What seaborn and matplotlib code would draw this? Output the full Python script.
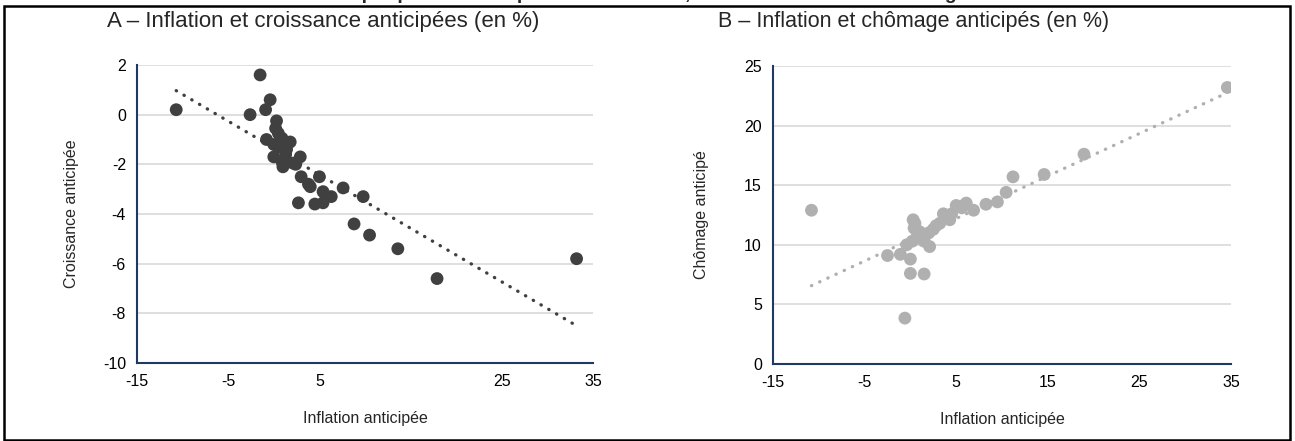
# Inflation anticipée vs croissance / chômage anticipés - two scatter panels
import numpy as np
import pandas as pd
import matplotlib.pyplot as plt
import seaborn as sns
from matplotlib.patches import Rectangle

# =========================================
# DATA
# =========================================

# Panel A - inflation vs growth
infl_a = [-10.7, -1.5, -0.4, -0.9, -2.6, 0.3, 0.2, 0.5, -0.8, 0.0, 0.9, 1.8,
          0.0, 0.9, 1.0, 2.9, 2.1, 1.4, 3.0, 5.0, 3.8, 4.0, 5.4, 6.3, 2.7,
          4.5, 5.4, 7.6, 9.8, 8.8, 10.5, 13.6, 17.9, 33.2, 1.3, 0.5, 2.4]
croiss_a = [0.2, 1.6, 0.6, 0.2, 0.0, -0.25, -0.55, -0.75, -1.0, -1.2, -0.95, -1.1,
            -1.7, -1.9, -2.1, -1.7, -1.95, -1.4, -2.5, -2.5, -2.8, -2.9, -3.1, -3.3, -3.55,
            -3.6, -3.55, -2.95, -3.3, -4.4, -4.85, -5.4, -6.6, -5.8, -1.6, -1.3, -2.0]

# Panel B - inflation vs unemployment
infl_b = [-10.8, -2.5, -1.1, 0.0, 0.0, 1.5, -0.6, 0.3, 0.4, 1.0, 0.7, 2.1,
          2.5, 3.6, 5.0, 6.1, 4.3, 3.2, -0.4, 1.5, 0.2, 0.8, 2.0, 2.8, 4.5,
          5.6, 6.0, 6.9, 8.25, 9.5, 10.45, 11.2, 14.6, 18.95, 34.6, 0.5, 1.2]
chom_b = [12.9, 9.1, 9.2, 8.8, 7.6, 7.55, 3.85, 12.1, 11.4, 11.1, 10.6, 9.85,
          11.3, 12.6, 13.3, 13.5, 12.1, 11.8, 10.0, 10.3, 10.3, 10.9, 11.0, 11.6, 12.6,
          13.1, 13.4, 12.9, 13.4, 13.6, 14.4, 15.7, 15.9, 17.6, 23.2, 11.8, 10.5]

x_ticks = [-15, -5, 5, 15, 25, 35]
x_labels_a = ['-15', '-5', '5', '', '25', '35']   # the 15 label is missing on panel A
x_labels_b = ['-15', '-5', '5', '15', '25', '35']

df_a = pd.DataFrame({'Inflation': infl_a, 'Croissance': croiss_a})
df_b = pd.DataFrame({'Inflation': infl_b, 'Chomage': chom_b})

# =========================================
# STYLE
# =========================================
sns.set_style('white')
plt.rcParams['font.family'] = ['Liberation Sans', 'DejaVu Sans']
plt.rcParams['axes.unicode_minus'] = False   # plain hyphen like the original

navy = '#1F3864'
dark = '#404040'
light = '#B0B0B0'
dotted = (0, (0.1, 2.6))

fig = plt.figure(figsize=(12.95, 4.41), dpi=100)
W, H = 1295, 441
ax1 = fig.add_axes([137 / W, 1 - 363 / H, 456 / W, 298 / H])
ax2 = fig.add_axes([773 / W, 1 - 364 / H, 458 / W, 298 / H])


def style_axis(ax, yticks, xlabels):
    ax.set_xlim(-15, 35)
    ax.set_xticks(x_ticks)
    ax.set_xticklabels(xlabels)
    ax.set_ylim(yticks[0], yticks[-1])
    ax.set_yticks(yticks)
    ax.grid(axis='y', color='#D9D9D9', lw=1.2)
    ax.grid(axis='x', visible=False)
    ax.set_axisbelow(True)
    for s in ['top', 'right']:
        ax.spines[s].set_visible(False)
    for s in ['left', 'bottom']:
        ax.spines[s].set_color(navy)
        ax.spines[s].set_linewidth(1.5)
    ax.tick_params(direction='out', length=5, width=1.5, color=navy,
                   labelsize=11.5, labelcolor='black', pad=3)


# Panel A
sns.scatterplot(data=df_a, x='Inflation', y='Croissance', ax=ax1, color=dark,
                s=85, edgecolor='none', zorder=3)
sns.regplot(data=df_a, x='Inflation', y='Croissance', ax=ax1, scatter=False, ci=None,
            color=dark, line_kws={'ls': dotted, 'lw': 2.4, 'dash_capstyle': 'round'})
style_axis(ax1, list(range(-10, 3, 2)), x_labels_a)
ax1.set_xlabel('Inflation anticipée', fontsize=11.5)
ax1.set_ylabel('Croissance anticipée', fontsize=11.5)
ax1.xaxis.set_label_coords(0.5, -0.161)
ax1.yaxis.set_label_coords(-0.127, 0.5)

# Panel B
sns.scatterplot(data=df_b, x='Inflation', y='Chomage', ax=ax2, color=light,
                s=85, edgecolor='none', zorder=3)
sns.regplot(data=df_b, x='Inflation', y='Chomage', ax=ax2, scatter=False, ci=None,
            color=light, line_kws={'ls': dotted, 'lw': 2.4, 'dash_capstyle': 'round'})
style_axis(ax2, list(range(0, 26, 5)), x_labels_b)
ax2.set_xlabel('Inflation anticipée', fontsize=11.5)
ax2.set_ylabel('Chômage anticipé', fontsize=11.5)
ax2.xaxis.set_label_coords(0.5, -0.161)
ax2.yaxis.set_label_coords(-0.14, 0.5)

# panel titles
fig.text(323 / W, 1 - 22 / H, 'A – Inflation et croissance anticipées (en %)',
         fontsize=16, va='center', ha='center')
fig.text(914 / W, 1 - 22 / H, 'B – Inflation et chômage anticipés (en %)',
         fontsize=15.5, va='center', ha='center')

# main title, only its descenders show at the top edge of the picture
fig.text(0.5, 1 + 1 / H, 'Graphique 3 – Anticipations d’inflation, de croissance et de chômage',
         fontsize=14, weight='bold', ha='center', va='baseline')

# frame around the chart
fig.add_artist(Rectangle((4 / W, 1 / H), 1286 / W, 434 / H, transform=fig.transFigure,
                         fill=False, ec='black', lw=1.8))

plt.savefig('out.png', dpi=100)
